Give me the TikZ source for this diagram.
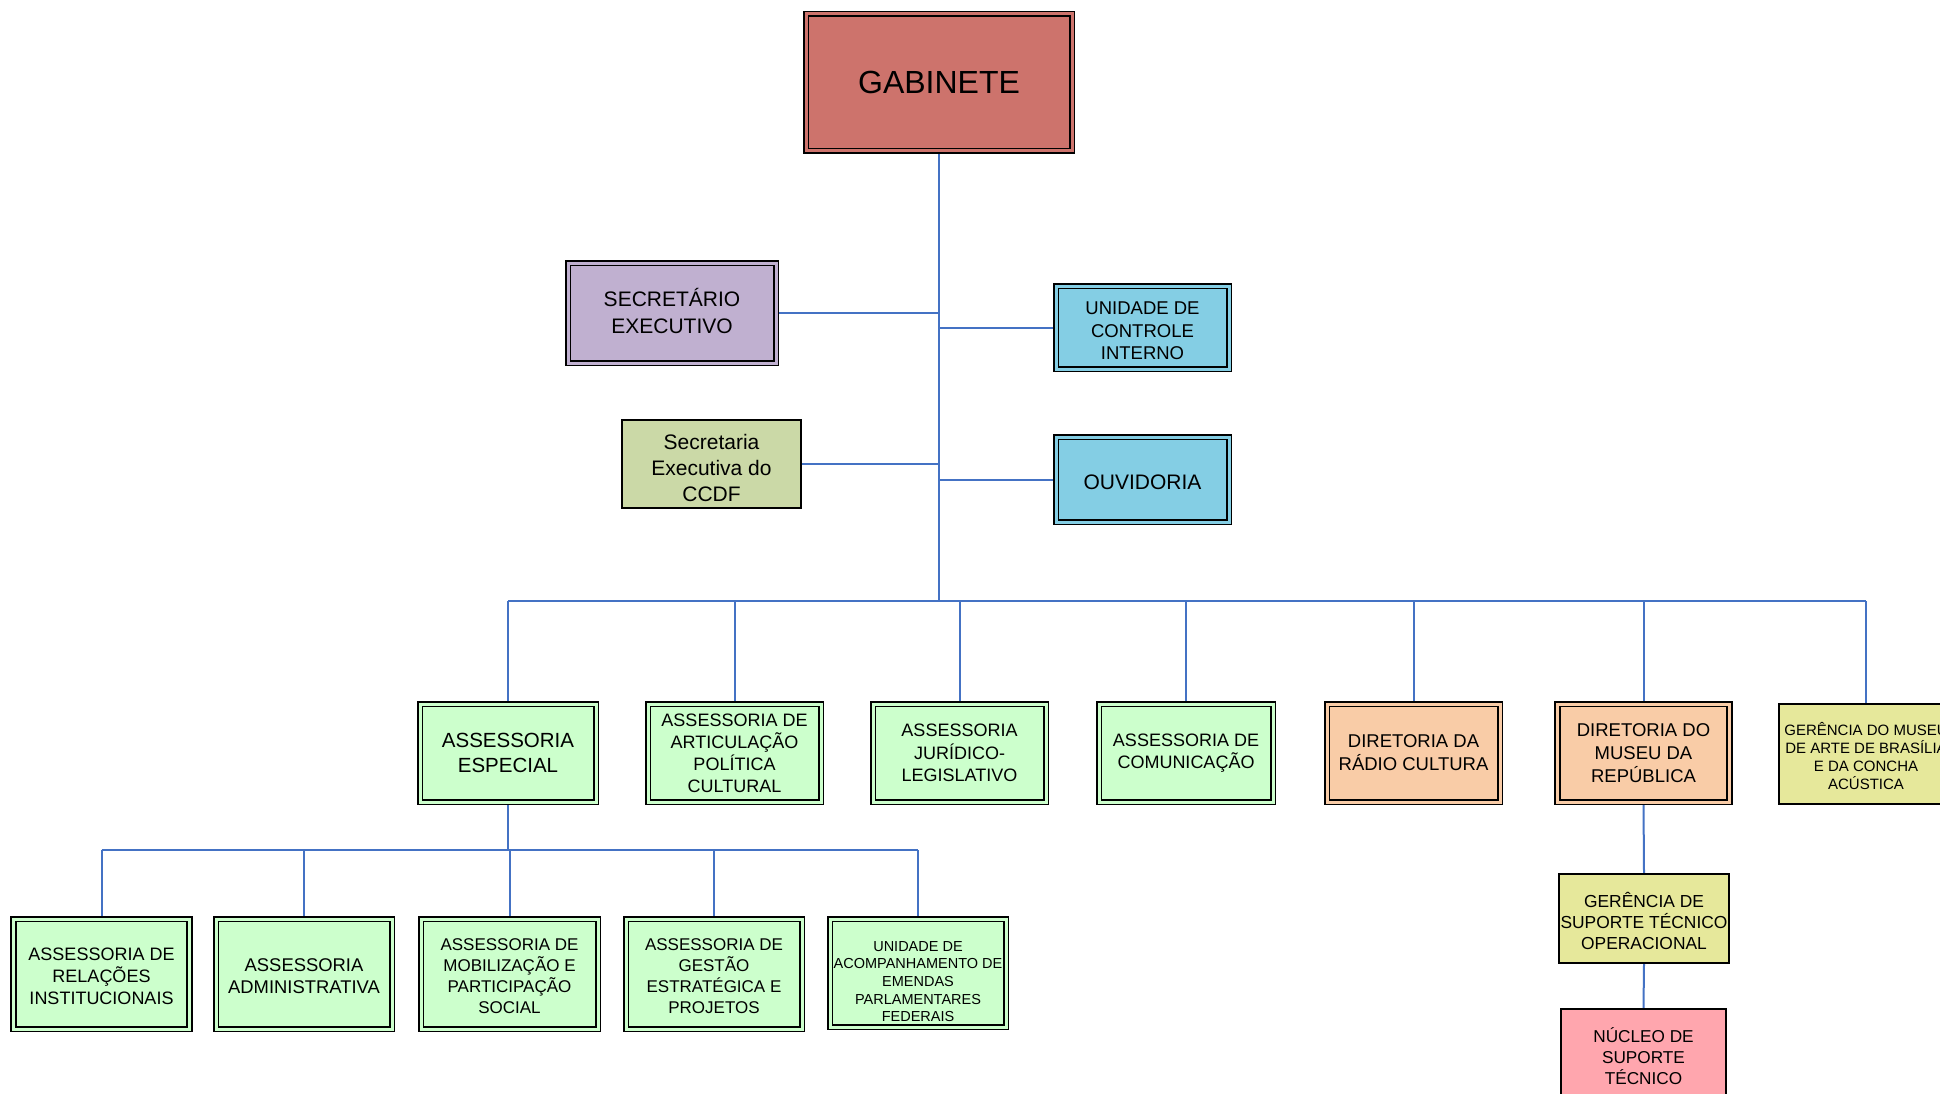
\documentclass[tikz,border=0pt]{standalone}
\usepackage{fontspec}
\setmainfont{Liberation Sans}
\pgfdeclarelayer{bg}
\pgfdeclarelayer{paper}
\pgfsetlayers{paper,bg,main}
\definecolor{cgab}{RGB}{205,115,108}
\definecolor{csec}{RGB}{192,176,208}
\definecolor{ccyan}{RGB}{132,206,228}
\definecolor{cccdf}{RGB}{203,217,167}
\definecolor{cgreen}{RGB}{204,255,204}
\definecolor{corange}{RGB}{249,204,167}
\definecolor{cyellow}{RGB}{230,232,155}
\definecolor{cpink}{RGB}{255,166,174}
\definecolor{cline}{RGB}{68,114,196}
\tikzset{
  box/.style={rectangle, inner sep=0pt, align=center, text=black},
  dbox/.style={box, draw=black, double=#1, double distance=3pt, line width=1.8pt, fill=#1},
  sbox/.style={box, draw=black, line width=1.8pt, fill=#1},
  txt/.style={inner sep=0pt, align=center, text=black},
  conn/.style={draw=cline, line width=2pt},
  fs/.style 2 args={font=\fontsize{#1}{#2}\selectfont},
}
\begin{document}
\begin{tikzpicture}[x=1pt,y=-1pt]
\clip (0,0) rectangle (1940,1094);
\begin{pgfonlayer}{paper}
\fill[white] (0,0) rectangle (1940,1094);
\end{pgfonlayer}

% top
\node[dbox=cgab, minimum width=266pt, minimum height=137pt, fs={32}{38}] (gab) at (939,82.5) {GABINETE};
\node[dbox=csec, minimum width=208pt, minimum height=100pt] (sec) at (672,313) {};
\node[txt, fs={21}{27}] (secT) at (672,311) {SECRETÁRIO\\EXECUTIVO};
\node[dbox=ccyan, minimum width=173pt, minimum height=83pt] (uci) at (1142.5,327.5) {};
\node[txt, fs={18.5}{22.5}] (uciT) at (1142.5,331) {UNIDADE DE\\CONTROLE\\INTERNO};
\node[sbox=cccdf, minimum width=179pt, minimum height=88pt] (ccdf) at (711.5,464) {};
\node[txt, fs={21}{26}] (ccdfT) at (711.5,468) {Secretaria\\Executiva do\\CCDF};
\node[dbox=ccyan, minimum width=173pt, minimum height=85pt, fs={21}{26}] (ouv) at (1142.5,479.5) {};
\node[txt, fs={21}{26}] (ouvT) at (1142.5,482) {OUVIDORIA};

\coordinate (bus) at (939,601);

% level 2
\node[dbox=cgreen, minimum width=176pt, minimum height=98pt, fs={20.5}{25}] (esp) at (508,753) {ASSESSORIA\\ESPECIAL};
\node[dbox=cgreen, minimum width=173pt, minimum height=98pt, fs={18}{22}] (art) at (734.5,753) {ASSESSORIA DE\\ARTICULAÇÃO\\POLÍTICA\\CULTURAL};
\node[dbox=cgreen, minimum width=173pt, minimum height=98pt, fs={18}{22.5}] (jur) at (959.5,753) {ASSESSORIA\\JURÍDICO-\\LEGISLATIVO};
\node[dbox=cgreen, minimum width=174pt, minimum height=98pt, fs={18}{22}] (com) at (1186,753) {ASSESSORIA DE\\COMUNICAÇÃO};
\node[dbox=corange, minimum width=173pt, minimum height=98pt, fs={18.5}{23}] (rad) at (1413.5,753) {DIRETORIA DA\\RÁDIO CULTURA};
\node[dbox=corange, minimum width=172pt, minimum height=98pt, fs={18.5}{23}] (mus) at (1643.5,753) {DIRETORIA DO\\MUSEU DA\\REPÚBLICA};
\node[sbox=cyellow, minimum width=174pt, minimum height=100pt] (mab) at (1866,754) {};
\node[txt, fs={15}{18}] (mabT) at (1866,756) {GERÊNCIA DO MUSEU\\DE ARTE DE BRASÍLIA\\E DA CONCHA\\ACÚSTICA};

% level 3
\coordinate (sbus) at (508,850);
\node[dbox=cgreen, minimum width=176pt, minimum height=110pt] (rel) at (101.5,974) {};
\node[txt, fs={18}{22}] (relT) at (101.5,976.5) {ASSESSORIA DE\\RELAÇÕES\\INSTITUCIONAIS};
\node[dbox=cgreen, minimum width=176pt, minimum height=110pt] (adm) at (304,974) {};
\node[txt, fs={18.4}{22}] (admT) at (304,976.5) {ASSESSORIA\\ADMINISTRATIVA};
\node[dbox=cgreen, minimum width=177pt, minimum height=110pt] (mob) at (509.5,974) {};
\node[txt, fs={17}{21}] (mobT) at (509.5,976.5) {ASSESSORIA DE\\MOBILIZAÇÃO E\\PARTICIPAÇÃO\\SOCIAL};
\node[dbox=cgreen, minimum width=176pt, minimum height=110pt] (ges) at (714,974) {};
\node[txt, fs={17}{21}] (gesT) at (714,976.5) {ASSESSORIA DE\\GESTÃO\\ESTRATÉGICA E\\PROJETOS};
\node[dbox=cgreen, minimum width=176pt, minimum height=108pt] (uae) at (918,973) {};
\node[txt, fs={14.5}{17.7}] (uaeT) at (918,981.5) {UNIDADE DE\\ACOMPANHAMENTO DE\\EMENDAS\\PARLAMENTARES\\FEDERAIS};

% museu chain
\node[sbox=cyellow, minimum width=170pt, minimum height=89pt] (gst) at (1644,918.3) {};
\node[txt, fs={17.4}{21}] (gstT) at (1644,920.8) {GERÊNCIA DE\\SUPORTE TÉCNICO\\OPERACIONAL};
\node[sbox=cpink, minimum width=165pt, minimum height=94pt, fs={17.2}{21}] (nst) at (1643.5,1056) {NÚCLEO DE\\SUPORTE\\TÉCNICO};

\begin{pgfonlayer}{bg}
  % trunk
  \draw[conn] (gab.south) -- (gab.south |- bus);
  \draw[conn] (sec.east) -- (sec.east -| gab.south);
  \draw[conn] (uci.west) -- (uci.west -| gab.south);
  \draw[conn] (ccdf.east) -- (ccdf.east -| gab.south);
  \draw[conn] (ouv.west) -- (ouv.west -| gab.south);
  % main bus
  \draw[conn] (esp.north |- bus) -- (mab.north |- bus);
  \foreach \n in {esp,art,jur,com,rad,mus,mab}
    \draw[conn] (\n.north) -- (\n.north |- bus);
  % sub bus
  \draw[conn] (esp.south) -- (esp.south |- sbus);
  \draw[conn] (rel.north |- sbus) -- (uae.north |- sbus);
  \foreach \n in {rel,adm,mob,ges,uae}
    \draw[conn] (\n.north) -- (\n.north |- sbus);
  % museu chain
  \draw[conn] (mus.south) -- (gst.north);
  \draw[conn] (gst.south) -- (nst.north);
\end{pgfonlayer}
\end{tikzpicture}
\end{document}
